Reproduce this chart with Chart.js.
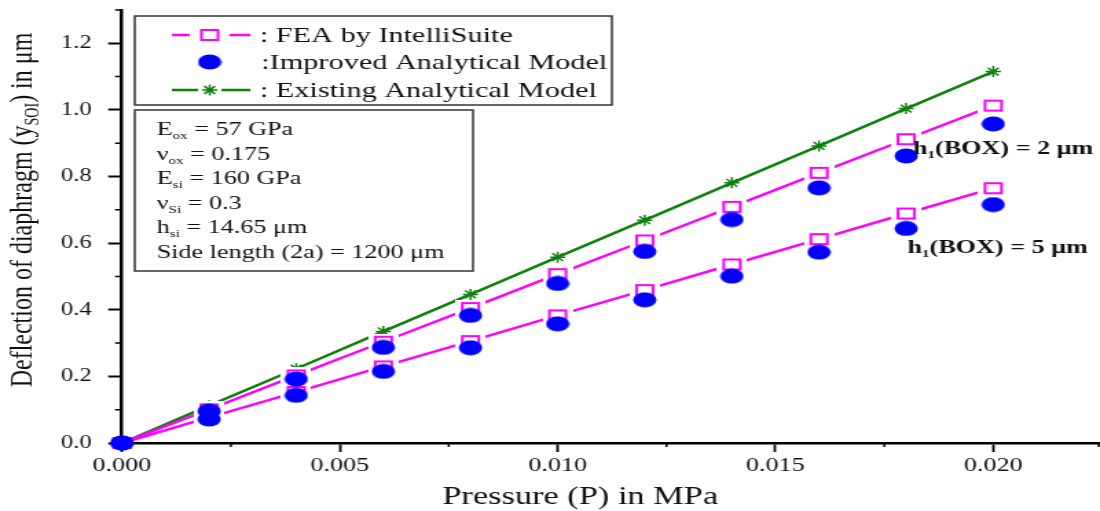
<!DOCTYPE html>
<html>
<head>
<meta charset="utf-8">
<title>Deflection of diaphragm vs pressure</title>
<script src="https://cdn.jsdelivr.net/npm/chart.js@4.4.1/dist/chart.umd.min.js"></script>
<style>
  html, body { margin: 0; padding: 0; background: #fff; }
  #wrap { width: 1100px; height: 511px; }
  canvas { display: block; }
</style>
</head>
<body>
<div id="wrap">
  <!-- drawn at 800 wide then stretched to 1100, like the original figure -->
  <canvas id="deflectionChart" width="800" height="511" style="width:1100px;height:511px"></canvas>
</div>
<script>
// Pressure (MPa)
const pressure = [0, 0.002, 0.004, 0.006, 0.008, 0.010, 0.012, 0.014, 0.016, 0.018, 0.020];

// Deflection (um)
const feaBox2      = [0, 0.101, 0.203, 0.304, 0.405, 0.507, 0.608, 0.709, 0.811, 0.912, 1.013];
const feaBox5      = [0, 0.077, 0.153, 0.230, 0.306, 0.383, 0.459, 0.536, 0.612, 0.689, 0.765];
const improvedBox2 = [0, 0.096, 0.192, 0.287, 0.383, 0.479, 0.575, 0.671, 0.766, 0.862, 0.958];
const improvedBox5 = [0, 0.072, 0.143, 0.215, 0.286, 0.358, 0.430, 0.501, 0.573, 0.644, 0.716];
const existingBox2 = [0, 0.112, 0.223, 0.335, 0.446, 0.558, 0.669, 0.781, 0.892, 1.004, 1.115];

// Ticks
const xMajorTicks = [0, 0.005, 0.010, 0.015, 0.020];
const xMinorTicks = [0.0025, 0.0075, 0.0125, 0.0175, 0.0225];
const yMajorTicks = [0, 0.2, 0.4, 0.6, 0.8, 1.0, 1.2];
const yMinorTicks = [0.1, 0.3, 0.5, 0.7, 0.9, 1.1, 1.3];

const SERIF = "'Liberation Serif', 'Times New Roman', serif";
const MAGENTA = '#FF00FF';
const BLUE = '#0000FF';
const GREEN = '#0B800B';

function toPoints(xs, ys) {
    return xs.map((x, i) => ({ x: x, y: ys[i] }));
}

// Marker images
function makeSquare(halo) {
    const w = 14, h = 12, padX = halo ? 4 : 1, padY = halo ? 2 : 1;
    const c = document.createElement('canvas');
    c.width = w + padX * 2;
    c.height = h + padY * 2;
    const g = c.getContext('2d');
    g.fillStyle = '#fff';
    if (halo) g.fillRect(0, 0, c.width, c.height);
    else g.fillRect(padX, padY, w, h);
    g.strokeStyle = MAGENTA;
    g.lineWidth = 2;
    g.strokeRect(padX + 1, padY + 1, w - 2, h - 2);
    return c;
}
function makeEllipse() {
    const c = document.createElement('canvas');
    c.width = 18; c.height = 16;
    const g = c.getContext('2d');
    g.fillStyle = BLUE;
    g.beginPath();
    g.ellipse(9, 8, 8.5, 7.5, 0, 0, Math.PI * 2);
    g.fill();
    return c;
}
const squarePlain = makeSquare(false);
const squareHalo = makeSquare(true);
const blueDot = makeEllipse();

function drawStar(ctx, x, y, r) {
    ctx.save();
    ctx.strokeStyle = GREEN;
    ctx.lineWidth = 1.5;
    ctx.beginPath();
    for (let k = 0; k < 4; k++) {
        const a = k * Math.PI / 4;
        ctx.moveTo(x - r * Math.cos(a), y - r * Math.sin(a));
        ctx.lineTo(x + r * Math.cos(a), y + r * Math.sin(a));
    }
    ctx.stroke();
    ctx.restore();
}

// Text with subscripts: parts = [[text, isSub], ...]
function richWidth(ctx, parts, size, weight) {
    let w = 0;
    parts.forEach(([txt, sub]) => {
        ctx.font = `${weight || 'normal'} ${sub ? Math.round(size * 0.6) : size}px ${SERIF}`;
        w += ctx.measureText(txt).width;
    });
    return w;
}
function drawRich(ctx, x, y, parts, size, weight) {
    let cx = x;
    parts.forEach(([txt, sub]) => {
        ctx.font = `${weight || 'normal'} ${sub ? Math.round(size * 0.6) : size}px ${SERIF}`;
        ctx.fillText(txt, cx, sub ? y + size * 0.32 : y);
        cx += ctx.measureText(txt).width;
    });
}

// Overlay: minor ticks, legend, material box, labels, axis titles
const overlayPlugin = {
    id: 'overlay',
    afterDraw(chart) {
        const ctx = chart.ctx;
        const xs = chart.scales.x, ys = chart.scales.y;
        const area = chart.chartArea;
        ctx.save();

        // minor ticks
        ctx.strokeStyle = '#000';
        ctx.lineWidth = 1.5;
        ctx.beginPath();
        yMinorTicks.forEach(v => {
            const py = ys.getPixelForValue(v);
            ctx.moveTo(area.left - 5, py);
            ctx.lineTo(area.left, py);
        });
        xMinorTicks.forEach(v => {
            const px = Math.min(xs.getPixelForValue(v), area.right - 1);
            ctx.moveTo(px, area.bottom);
            ctx.lineTo(px, area.bottom + 4);
        });
        ctx.stroke();

        ctx.fillStyle = '#111';
        ctx.textBaseline = 'middle';
        ctx.textAlign = 'left';

        // legend box
        ctx.fillStyle = '#fff';
        ctx.fillRect(98, 16, 347, 89);
        ctx.strokeStyle = '#333';
        ctx.lineWidth = 1.5;
        ctx.strokeRect(98, 16, 347, 89);

        ctx.lineWidth = 2.5;
        ctx.strokeStyle = MAGENTA;
        ctx.beginPath();
        ctx.moveTo(125, 35); ctx.lineTo(138, 35);
        ctx.moveTo(167, 35); ctx.lineTo(182, 35);
        ctx.stroke();
        ctx.drawImage(squarePlain, 152.5 - squarePlain.width / 2, 35 - squarePlain.height / 2);

        ctx.drawImage(blueDot, 152.5 - blueDot.width / 2, 62 - blueDot.height / 2);

        ctx.strokeStyle = GREEN;
        ctx.beginPath();
        ctx.moveTo(125, 90); ctx.lineTo(144, 90);
        ctx.moveTo(161, 90); ctx.lineTo(182, 90);
        ctx.stroke();
        drawStar(ctx, 152.5, 90, 5.5);

        ctx.fillStyle = '#111';
        ctx.font = `22px ${SERIF}`;
        ctx.fillText(': FEA by IntelliSuite', 189, 36);
        ctx.fillText(':Improved Analytical Model', 190, 63);
        ctx.fillText(': Existing Analytical Model', 189, 91);

        // material box
        ctx.fillStyle = '#fff';
        ctx.fillRect(98, 110, 246, 161);
        ctx.strokeStyle = '#333';
        ctx.lineWidth = 1.5;
        ctx.strokeRect(98, 110, 246, 161);
        ctx.fillStyle = '#111';
        const lines = [
            [['E'], ['ox', true], [' = 57 GPa']],
            [['\u03bd'], ['ox', true], [' = 0.175']],
            [['E'], ['si', true], [' = 160 GPa']],
            [['\u03bd'], ['Si', true], [' = 0.3']],
            [['h'], ['si', true], [' = 14.65 \u03bcm']],
            [['Side length (2a) = 1200 \u03bcm']]
        ];
        lines.forEach((parts, i) => drawRich(ctx, 114, 130 + i * 24.6, parts, 19));

        // box thickness labels
        drawRich(ctx, 664, 149, [['h'], ['1', true], ['(BOX) = 2 \u03bcm']], 19, 'bold');
        drawRich(ctx, 660, 248, [['h'], ['1', true], ['(BOX) = 5 \u03bcm']], 19, 'bold');

        // x title
        ctx.font = `25px ${SERIF}`;
        ctx.textAlign = 'center';
        ctx.fillText('Pressure (P) in MPa', 422, 497);

        // y title
        ctx.textAlign = 'left';
        const yParts = [['Deflection of diaphragm (y'], ['SOI', true], [') in \u03bcm']];
        const w = richWidth(ctx, yParts, 24);
        ctx.translate(17, 210);
        ctx.rotate(-Math.PI / 2);
        drawRich(ctx, -w / 2, 0, yParts, 24);

        ctx.restore();
    }
};

const commonLine = {
    showLine: true,
    clip: false,
    borderWidth: 2.5,
    tension: 0
};

new Chart(document.getElementById('deflectionChart'), {
    type: 'line',
    data: {
        datasets: [
            {
                ...commonLine,
                label: 'Existing Analytical Model',
                data: toPoints(pressure, existingBox2),
                borderColor: GREEN,
                pointStyle: 'star',
                pointRadius: 5.5,
                pointBorderColor: GREEN,
                pointBorderWidth: 1.5,
                order: 3
            },
            {
                ...commonLine,
                label: 'FEA by IntelliSuite (2 um)',
                data: toPoints(pressure, feaBox2),
                borderColor: MAGENTA,
                pointStyle: c => c.dataIndex === 0 ? squarePlain : squareHalo,
                order: 2
            },
            {
                ...commonLine,
                label: 'FEA by IntelliSuite (5 um)',
                data: toPoints(pressure, feaBox5),
                borderColor: MAGENTA,
                pointStyle: c => c.dataIndex === 0 ? squarePlain : squareHalo,
                order: 2
            },
            {
                label: 'Improved Analytical Model (2 um)',
                data: toPoints(pressure, improvedBox2),
                showLine: false,
                clip: false,
                pointStyle: blueDot,
                order: 1
            },
            {
                label: 'Improved Analytical Model (5 um)',
                data: toPoints(pressure, improvedBox5),
                showLine: false,
                clip: false,
                pointStyle: blueDot,
                order: 1
            }
        ]
    },
    options: {
        responsive: false,
        devicePixelRatio: 1,
        animation: false,
        layout: { autoPadding: false, padding: { top: 10, right: 0, left: 0, bottom: 0 } },
        plugins: {
            legend: { display: false },
            tooltip: { enabled: false }
        },
        scales: {
            x: {
                type: 'linear',
                min: 0,
                max: 0.02245,
                border: { display: true, color: '#000', width: 2.5 },
                grid: { drawOnChartArea: false, drawTicks: true, tickLength: 9, tickWidth: 1.8, tickColor: '#000' },
                afterBuildTicks: s => { s.ticks = xMajorTicks.map(v => ({ value: v })); },
                afterFit: s => { s.height = 68; s.paddingLeft = 0; s.paddingRight = 0; },
                ticks: {
                    padding: 3,
                    color: '#111',
                    font: { family: SERIF, size: 19 },
                    callback: v => Number(v).toFixed(3)
                }
            },
            y: {
                type: 'linear',
                min: 0,
                max: 1.3,
                border: { display: true, color: '#000', width: 2.5 },
                grid: { drawOnChartArea: false, drawTicks: true, tickLength: 10, tickWidth: 2, tickColor: '#000' },
                afterBuildTicks: s => { s.ticks = yMajorTicks.map(v => ({ value: v })); },
                afterFit: s => { s.width = 88.7; s.paddingTop = 0; s.paddingBottom = 0; },
                ticks: {
                    padding: 12,
                    color: '#111',
                    font: { family: SERIF, size: 18 },
                    callback: v => Number(v).toFixed(1)
                }
            }
        }
    },
    plugins: [overlayPlugin]
});
</script>
</body>
</html>
